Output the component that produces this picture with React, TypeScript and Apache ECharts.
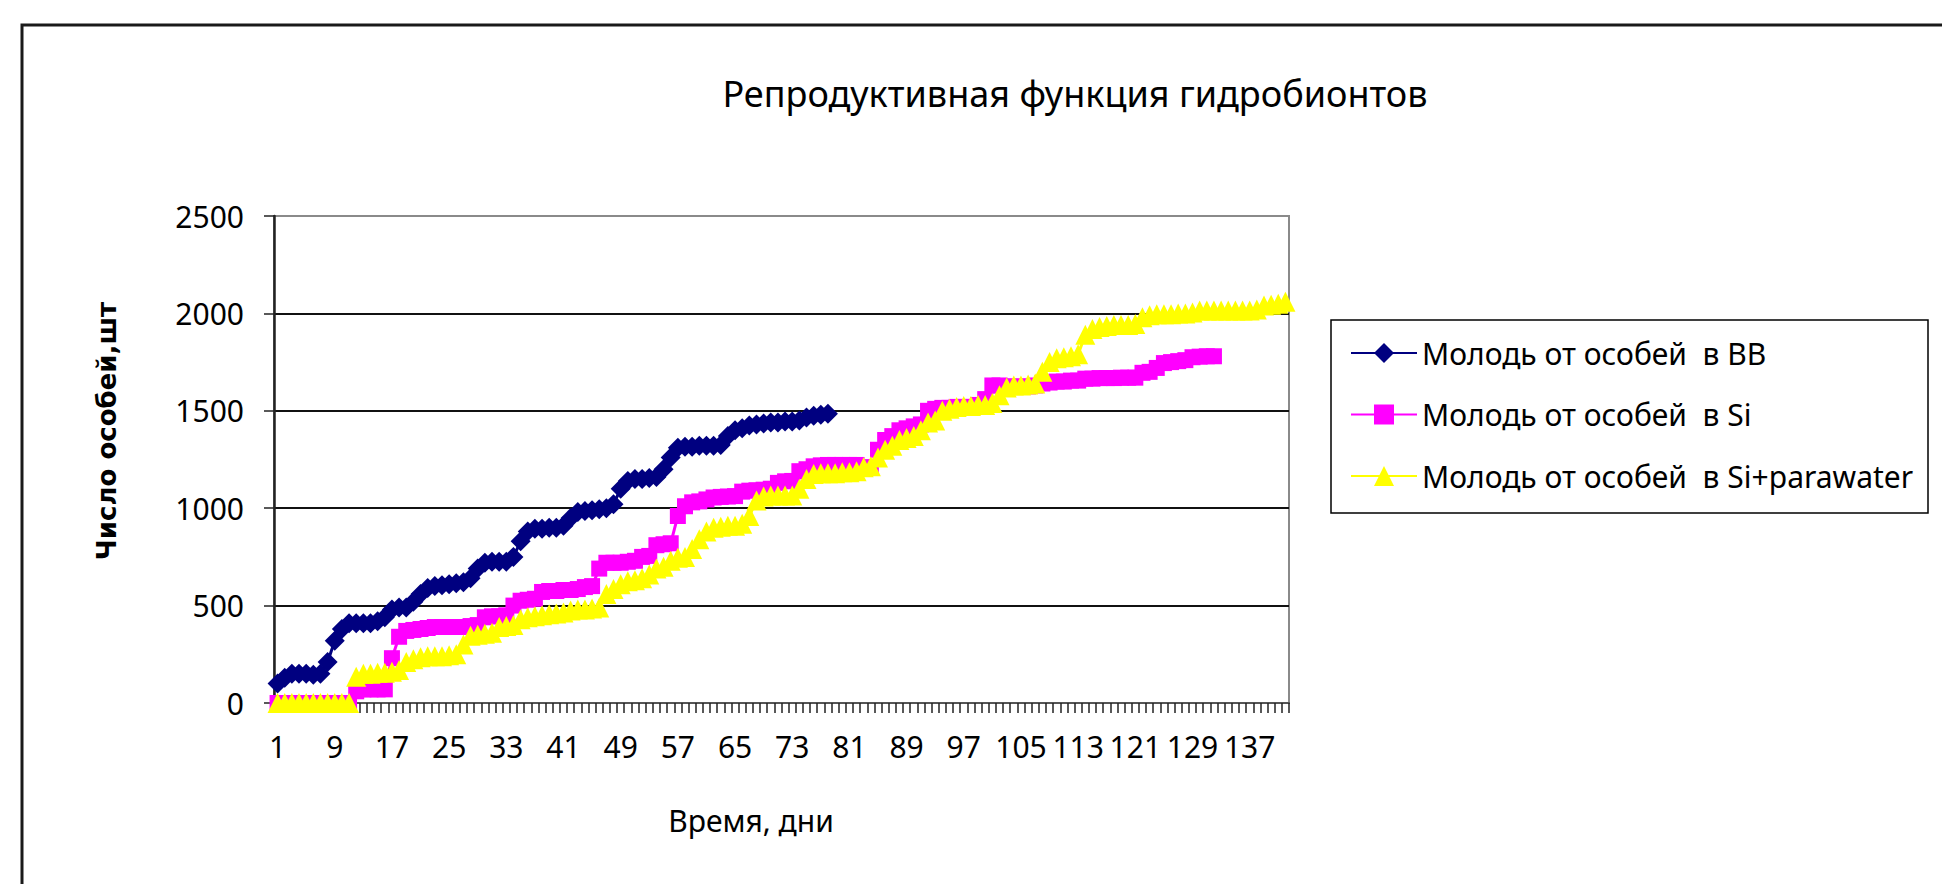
import React, { useEffect, useRef } from "react";
import * as echarts from "echarts";

const titleText = "Репродуктивная функция гидробионтов";
const xAxisName = "Время, дни";
const yAxisName = "Число особей,шт";

const days: string[] = Array.from({ length: 142 }, (_, i) => String(i + 1));

const seriesNames = [
  "Молодь от особей  в ВВ",
  "Молодь от особей  в Si",
  "Молодь от особей  в Si+parawater",
];

const youngBB = [
  100, 130, 150, 150, 150, 145, 150, 210, 320, 380,
  410, 410, 410, 410, 420, 440, 480, 490, 490, 520,
  560, 590, 600, 605, 610, 615, 620, 640, 690, 720,
  725, 725, 725, 750, 830, 880, 895, 895, 900, 900,
  910, 950, 980, 985, 990, 995, 1000, 1020, 1100, 1140,
  1150, 1150, 1155, 1160, 1200, 1260, 1310, 1315, 1315, 1320,
  1320, 1320, 1325, 1370, 1400, 1410, 1425, 1430, 1435, 1440,
  1440, 1445, 1445, 1450, 1465, 1475, 1480, 1485,
];

const youngSi = [
  0, 0, 0, 0, 0, 0, 0, 0, 0, 0,
  0, 60, 70, 70, 70, 70, 230, 340, 370, 375,
  380, 385, 390, 390, 390, 390, 390, 395, 400, 440,
  445, 445, 450, 500, 525, 530, 535, 570, 575, 575,
  580, 580, 585, 595, 600, 690, 720, 720, 720, 725,
  730, 750, 755, 810, 815, 820, 960, 1010, 1030, 1035,
  1045, 1055, 1058, 1060, 1062, 1085, 1090, 1092, 1095, 1100,
  1130, 1138, 1140, 1190, 1200, 1215, 1220, 1222, 1222, 1222,
  1222, 1222, 1210, 1210, 1300, 1350, 1370, 1400, 1410, 1420,
  1430, 1500, 1510, 1515, 1515, 1520, 1520, 1520, 1530, 1560,
  1630, 1630, 1625, 1625, 1625, 1625, 1630, 1640, 1645, 1650,
  1650, 1655, 1655, 1665, 1665, 1668, 1668, 1668, 1670, 1670,
  1670, 1695, 1700, 1720, 1745, 1750, 1755, 1760, 1775, 1778,
  1780, 1780,
];

const youngSiParawater = [
  0, 0, 0, 0, 0, 0, 0, 0, 0, 0,
  0, 135, 150, 150, 155, 155, 160, 170, 210, 225,
  235, 240, 240, 240, 245, 250, 300, 345, 350, 355,
  360, 390, 395, 400, 430, 440, 445, 450, 455, 460,
  465, 475, 480, 480, 485, 490, 560, 585, 610, 625,
  630, 640, 660, 690, 700, 730, 745, 750, 790, 840,
  880, 900, 905, 910, 910, 920, 960, 1040, 1060, 1065,
  1065, 1065, 1065, 1100, 1150, 1175, 1180, 1180, 1180, 1185,
  1185, 1190, 1210, 1215, 1260, 1300, 1320, 1350, 1360, 1370,
  1400, 1440, 1450, 1500, 1510, 1520, 1525, 1525, 1530, 1530,
  1540, 1580, 1620, 1630, 1630, 1635, 1640, 1700, 1750, 1770,
  1775, 1780, 1790, 1890, 1920, 1930, 1935, 1940, 1940, 1940,
  1945, 1980, 1990, 1995, 1995, 1995, 2000, 2000, 2005, 2015,
  2015, 2015, 2015, 2015, 2015, 2015, 2015, 2020, 2040, 2045,
  2050, 2060,
];

const FONT = "'Noto Sans', 'DejaVu Sans', sans-serif";

export default function App() {
  const ref = useRef<HTMLDivElement>(null);

  useEffect(() => {
    if (!ref.current) return;
    const chart = echarts.init(ref.current, null, { renderer: "svg" });

    const mkSeries = (name: string, data: number[], color: string, symbol: string, size: number) => ({
      name,
      type: "line",
      data,
      symbol,
      symbolSize: size,
      showAllSymbol: true,
      clip: false,
      itemStyle: { color, borderWidth: 0 },
      lineStyle: { color, width: 3 },
      emphasis: { disabled: true },
    });

    chart.setOption({
      animation: false,
      backgroundColor: "#ffffff",
      textStyle: { fontFamily: FONT, color: "#000" },
      grid: {
        left: 274,
        right: 653,
        top: 216,
        bottom: 181,
        show: true,
        borderColor: "#8a8a8a",
        borderWidth: 2,
        backgroundColor: "transparent",
      },
      xAxis: {
        type: "category",
        data: days,
        boundaryGap: true,
        axisLine: { show: true, lineStyle: { color: "#555", width: 2 } },
        axisTick: { show: true, interval: 0, length: 10, lineStyle: { color: "#222", width: 1.5 } },
        axisLabel: { interval: 7, fontSize: 30, color: "#000", margin: 28, fontFamily: FONT },
        splitLine: { show: false },
      },
      yAxis: {
        type: "value",
        min: 0,
        max: 2500,
        interval: 500,
        axisLine: { show: true, lineStyle: { color: "#222", width: 2.5 } },
        axisTick: { show: true, length: 10, lineStyle: { color: "#222", width: 1.5 } },
        axisLabel: {
          fontSize: 30,
          color: "#000",
          margin: 30,
          fontFamily: FONT,
          formatter: (v: number) => String(v),
        },
        splitLine: {
          show: true,
          showMaxLine: false,
          showMinLine: false,
          lineStyle: { color: "#111", width: 2 },
        },
      },
      legend: {
        orient: "vertical",
        left: 1350,
        top: 338,
        padding: 0,
        itemWidth: 66,
        itemHeight: 25,
        itemGap: 31.5,
        selectedMode: false,
        textStyle: { fontSize: 30, lineHeight: 25, color: "#000", fontFamily: FONT },
        data: seriesNames,
      },
      graphic: [
        {
          type: "rect",
          silent: true,
          z: -10,
          shape: { x: 22, y: 25, width: 2000, height: 1000 },
          style: { fill: "none", stroke: "#1a1a1a", lineWidth: 3 },
        },
        {
          type: "rect",
          silent: true,
          shape: { x: 1331, y: 320, width: 597, height: 193 },
          style: { fill: "none", stroke: "#000", lineWidth: 1.5 },
        },
        {
          type: "text",
          silent: true,
          x: 1075,
          y: 93,
          style: {
            text: titleText,
            fontSize: 36,
            fontFamily: FONT,
            fill: "#000",
            align: "center",
            verticalAlign: "middle",
            textAlign: "center",
            textVerticalAlign: "middle",
          },
        },
        {
          type: "text",
          silent: true,
          x: 751,
          y: 820,
          style: {
            text: xAxisName,
            fontSize: 30,
            fontFamily: FONT,
            fill: "#000",
            align: "center",
            verticalAlign: "middle",
            textAlign: "center",
            textVerticalAlign: "middle",
          },
        },
        {
          type: "text",
          silent: true,
          x: 107,
          y: 431,
          rotation: Math.PI / 2,
          style: {
            text: yAxisName,
            fontSize: 26,
            fontWeight: "bold",
            fontFamily: "'DejaVu Sans', sans-serif",
            fill: "#000",
            align: "center",
            verticalAlign: "middle",
            textAlign: "center",
            textVerticalAlign: "middle",
          },
        },
      ],
      series: [
        mkSeries(seriesNames[0], youngBB, "#000080", "diamond", 20),
        mkSeries(seriesNames[1], youngSi, "#FF00FF", "rect", 16),
        mkSeries(seriesNames[2], youngSiParawater, "#FFFF00", "triangle", 20),
      ],
    });

    return () => chart.dispose();
  }, []);

  return (
    <div
      ref={ref}
      style={{ position: "fixed", left: 0, top: 0, width: 1942, height: 884, background: "#fff" }}
    />
  );
}
